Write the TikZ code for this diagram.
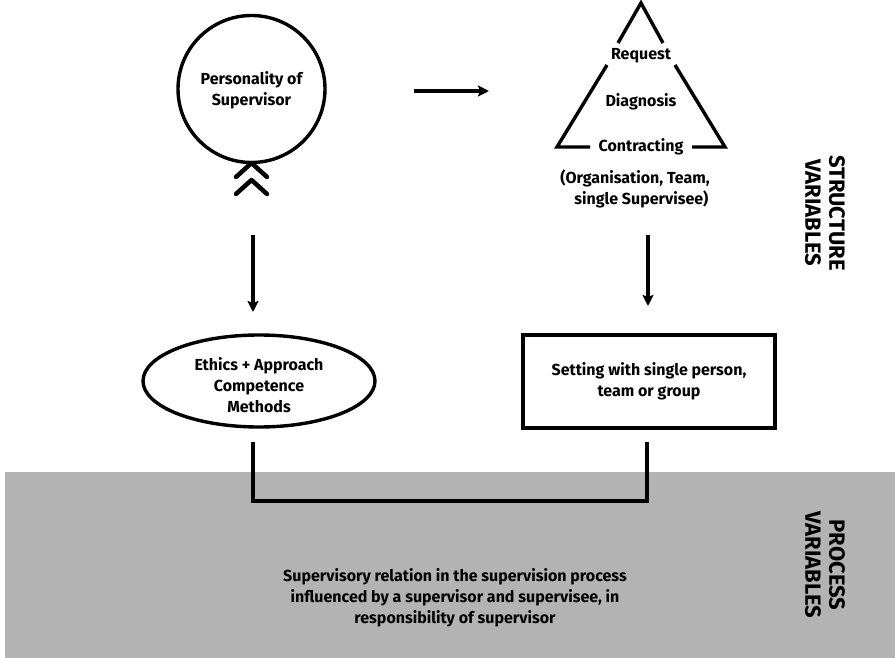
\documentclass[tikz,border=0pt]{standalone}
\usepackage{fontspec}
\setmainfont{Fira Sans}
\usetikzlibrary{arrows.meta,shapes.geometric}
\definecolor{procgray}{RGB}{179,179,179}
\tikzset{
  txt/.style={font=\bfseries\fontsize{16}{21}\selectfont, align=center, inner sep=0pt},
  bigtxt/.style={font=\bfseries\fontsize{22}{24}\selectfont, align=center, inner sep=0pt, rotate=-90},
  ln/.style={line width=3.4pt},
  arr/.style={line width=3.2pt, -{Stealth[length=11pt,width=11pt,inset=2pt]}},
}
\begin{document}
\begin{tikzpicture}[x=1pt,y=-1pt]
\useasboundingbox (0,0) rectangle (895,658);
% process area
\fill[procgray] (5,472) rectangle (895,658);
% circle
\node[draw, ln, circle, minimum size=147pt, inner sep=0pt] (pers) at (251.5,89) {};
\node[txt] (perstxt) at (251.5,90) {Personality of\\Supervisor};
% chevrons
\draw[line width=4.5pt, line cap=round, line join=round] (236,177) -- (251.5,163) -- (267,177);
\draw[line width=4.5pt, line cap=round, line join=round] (236,194) -- (251.5,180) -- (267,194);
% triangle
\coordinate (apex) at (641,3);
\coordinate (bl) at (557,147);
\coordinate (br) at (725,147);
\draw[ln, line join=miter] (618,43) -- (apex) -- (663,43);
\draw[ln, line join=miter] (607,65) -- (bl) -- (590,147);
\draw[ln, line join=miter] (675,65) -- (br) -- (692,147);
\node[txt] (req) at (641,56) {Request};
\node[txt] (diag) at (641,102) {Diagnosis};
\node[txt] (contr) at (641,147) {Contracting};
\node[txt, align=left] (org) at (635,189) {(Organisation, Team,\\\hspace{14pt}single Supervisee)};
% horizontal arrow
\coordinate (h1) at (414,91);
\coordinate (h2) at (489,91);
\draw[arr] (h1) -- (h2);
% vertical arrows
\coordinate (l1) at (253,235);
\coordinate (l2) at (253,312);
\coordinate (r1) at (648,235);
\coordinate (r2) at (648,306);
\draw[arr] (l1) -- (l2);
\draw[arr] (r1) -- (r2);
% ellipse
\node[draw, ln, ellipse, minimum width=232pt, minimum height=92pt, inner sep=0pt] (eth) at (259,381) {};
\node[txt] (ethtxt) at (259,385) {Ethics + Approach\\Competence\\Methods};
% rectangle
\node[draw, ln, rectangle, minimum width=252pt, minimum height=93pt, inner sep=0pt] (sett) at (649,381.5) {};
\node[txt] (setttxt) at (649,381) {Setting with single person,\\team or group};
% bracket
\coordinate (b1) at (253,442);
\coordinate (b2) at (647,442);
\draw[ln] (b1) -- (253,501) -- (647,501) -- (b2);
% process text
\node[txt] (proc) at (455,598) {Supervisory relation in the supervision process\\influenced by a supervisor and supervisee, in\\responsibility of supervisor};
% side labels
\node[bigtxt] (struct) at (825,213) {STRUCTURE\\VARIABLES};
\node[bigtxt] (procv) at (825,565) {PROCESS\\VARIABLES};
\end{tikzpicture}
\end{document}
